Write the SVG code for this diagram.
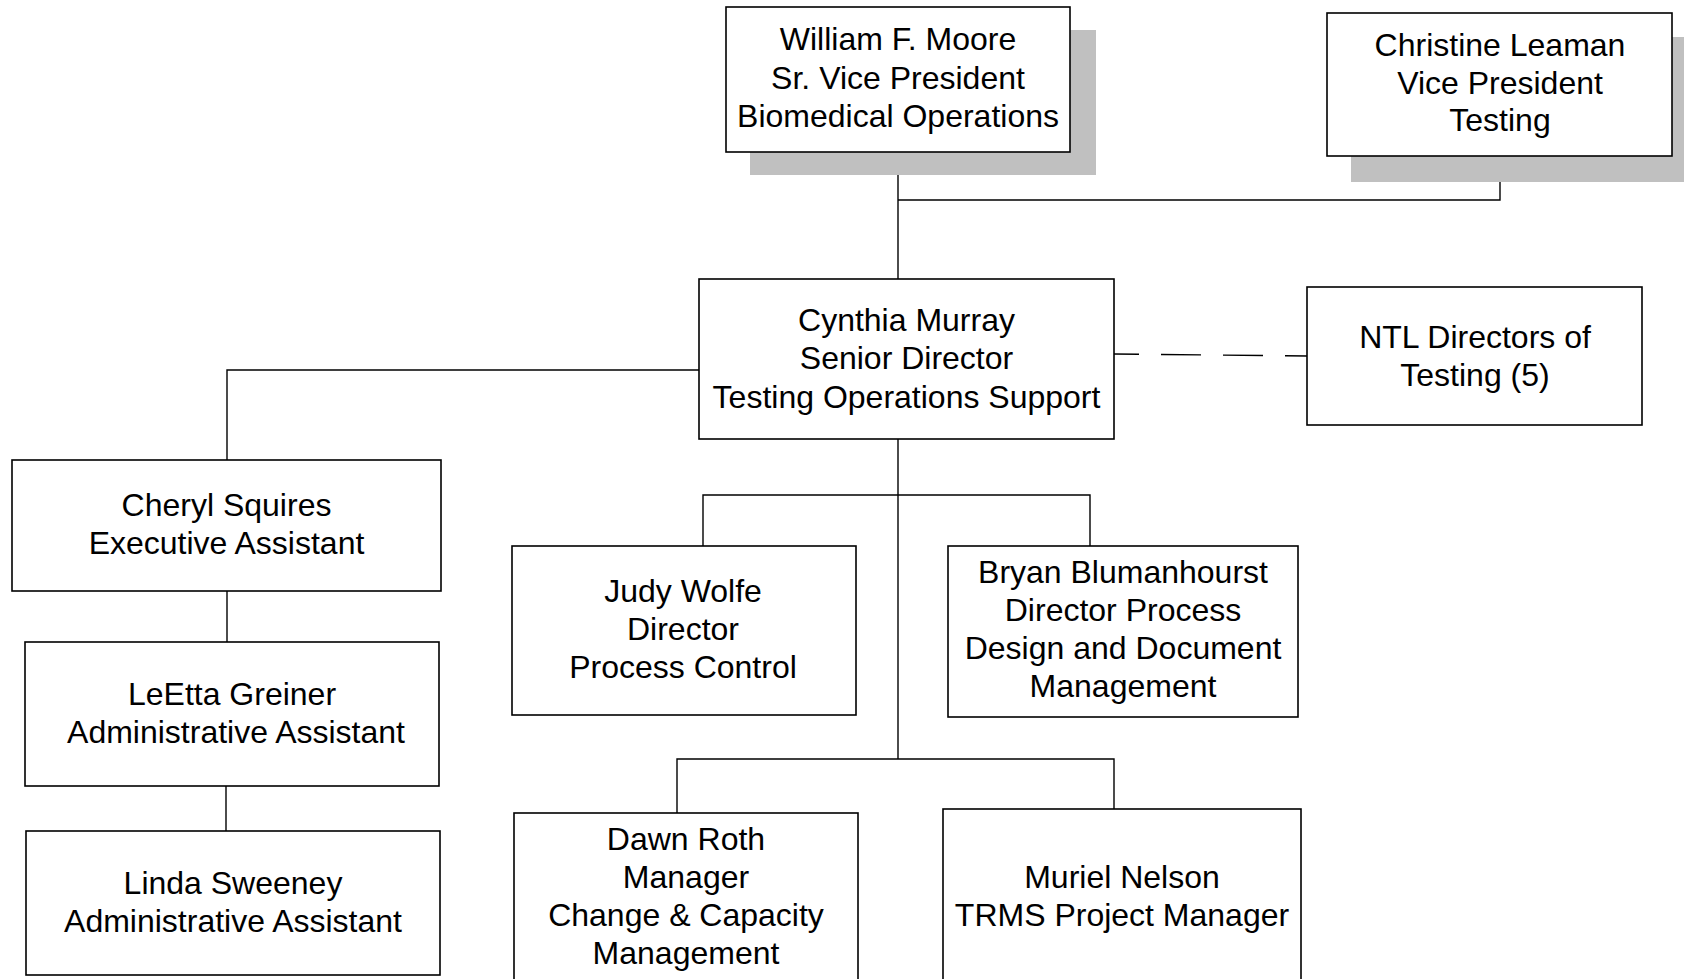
<svg xmlns="http://www.w3.org/2000/svg" width="1684" height="979" viewBox="0 0 1684 979">
<style>
.box{fill:#fff;stroke:#000;stroke-width:1.6}
.shadow{fill:#c0c0c0;stroke:none}
.conn{fill:none;stroke:#000;stroke-width:1.4}
.dash{fill:none;stroke:#000;stroke-width:1.4;stroke-dasharray:40 22;stroke-dashoffset:15}
text{font-family:"Liberation Sans",Arial,sans-serif;font-size:32px;fill:#000;text-anchor:middle}
</style>
<rect width="1684" height="979" fill="#fff"/>
<g id="connectors">
<path class="conn" d="M898 152V279"/>
<path class="conn" d="M1500 156V200H898"/>
<path class="conn" d="M699 370H227V460"/>
<path class="conn" d="M227 591V642"/>
<path class="conn" d="M226 786V831"/>
<path class="conn" d="M898 439V759"/>
<path class="conn" d="M703 546V495H1090V546"/>
<path class="conn" d="M677 813V759H1114V809"/>
<path class="dash" d="M1114 354L1307 356"/>
</g>
<g id="moore">
<rect class="shadow" x="750" y="30" width="346" height="145"/>
<rect class="box" x="726" y="7" width="344" height="145"/>
<text x="898" y="50">William F. Moore</text>
<text x="898" y="88.5">Sr. Vice President</text>
<text x="898" y="127">Biomedical Operations</text>
</g>
<g id="leaman">
<rect class="shadow" x="1351" y="37" width="340" height="145"/>
<rect class="box" x="1327" y="13" width="345" height="143"/>
<text x="1500" y="56">Christine Leaman</text>
<text x="1500" y="93.5">Vice President</text>
<text x="1500" y="131">Testing</text>
</g>
<g id="murray">
<rect class="box" x="699" y="279" width="415" height="160"/>
<text x="906.5" y="331">Cynthia Murray</text>
<text x="906.5" y="369">Senior Director</text>
<text x="906.5" y="407.5">Testing Operations Support</text>
</g>
<g id="ntl">
<rect class="box" x="1307" y="287" width="335" height="138"/>
<text x="1475" y="348">NTL Directors of</text>
<text x="1475" y="386">Testing (5)</text>
</g>
<g id="squires">
<rect class="box" x="12" y="460" width="429" height="131"/>
<text x="226.5" y="515.5">Cheryl Squires</text>
<text x="226.5" y="553.5">Executive Assistant</text>
</g>
<g id="greiner">
<rect class="box" x="25" y="642" width="414" height="144"/>
<text x="232" y="704.5">LeEtta Greiner</text>
<text x="236" y="742.5">Administrative Assistant</text>
</g>
<g id="sweeney">
<rect class="box" x="26" y="831" width="414" height="144"/>
<text x="233" y="893.5">Linda Sweeney</text>
<text x="233" y="931.5">Administrative Assistant</text>
</g>
<g id="wolfe">
<rect class="box" x="512" y="546" width="344" height="169"/>
<text x="683" y="602">Judy Wolfe</text>
<text x="683" y="640">Director</text>
<text x="683" y="678">Process Control</text>
</g>
<g id="blumanhourst">
<rect class="box" x="948" y="546" width="350" height="171"/>
<text x="1123" y="583">Bryan Blumanhourst</text>
<text x="1123" y="621">Director Process</text>
<text x="1123" y="659">Design and Document</text>
<text x="1123" y="697">Management</text>
</g>
<g id="roth">
<rect class="box" x="514" y="813" width="344" height="190"/>
<text x="686" y="850">Dawn Roth</text>
<text x="686" y="888">Manager</text>
<text x="686" y="926">Change &amp; Capacity</text>
<text x="686" y="964">Management</text>
</g>
<g id="nelson">
<rect class="box" x="943" y="809" width="358" height="190"/>
<text x="1122" y="887.5">Muriel Nelson</text>
<text x="1122" y="926">TRMS Project Manager</text>
</g>
</svg>
